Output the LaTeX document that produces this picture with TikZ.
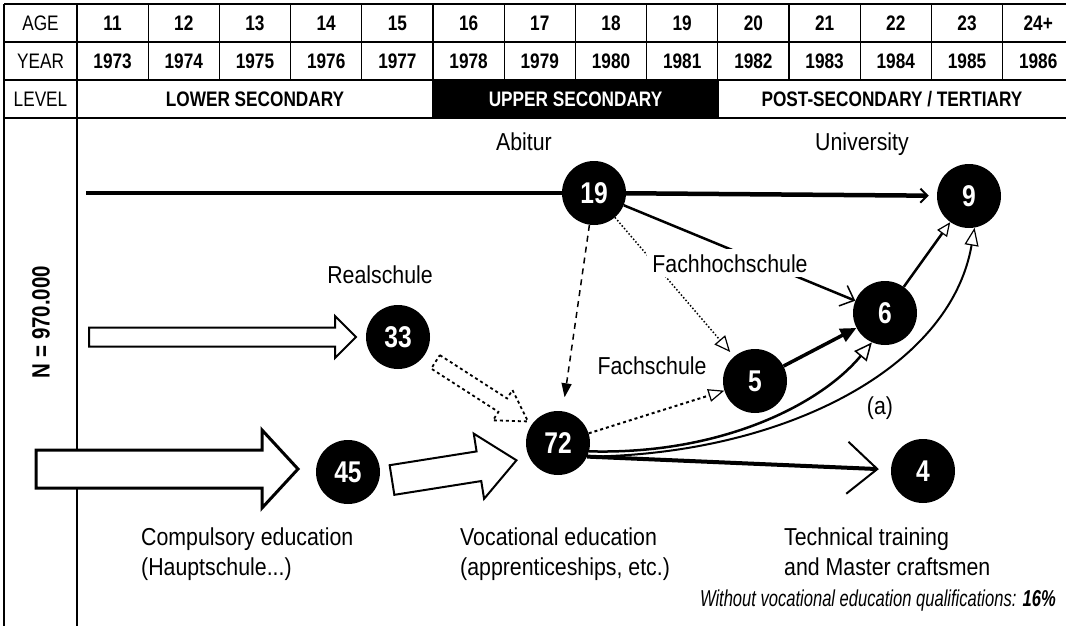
\documentclass[tikz,border=0pt]{standalone}
\usepackage{fontspec}
\setmainfont{Liberation Sans}
\newfontfamily\cond{Liberation Sans}[FakeStretch=0.82]
\newfontfamily\labf{Liberation Sans}[FakeStretch=0.87]
\newfontfamily\condit{Liberation Sans}[FakeStretch=0.72]
\usetikzlibrary{arrows.meta,calc}
\tikzset{
  pics/fatarrow/.style n args={4}{code={
    \draw[fill=white,line join=miter] (0,-#2) -- ({#1-#4},-#2) -- ({#1-#4},-#3) -- (#1,0) -- ({#1-#4},#3) -- ({#1-#4},#2) -- (0,#2) -- cycle;}},
  grid/.style={line width=1.3pt},
  hdr/.style={inner sep=0pt, font=\cond\fontsize{21}{24}\selectfont},
  hdrb/.style={inner sep=0pt, font=\cond\bfseries\fontsize{21}{24}\selectfont},
  circ/.style={circle, fill=black, minimum size=64pt, inner sep=0pt, text=white, font=\cond\bfseries\fontsize{30}{30}\selectfont},
  lbl/.style={inner sep=0pt, anchor=base, font=\labf\fontsize{24.5}{26}\selectfont},
  lblw/.style={lbl, anchor=base west},
  gap/.style={fill=white, inner sep=5pt},
}
\begin{document}
\begin{tikzpicture}[x=1pt,y=-1pt]
\useasboundingbox (0,0) rectangle (1066,626);
\fill[white] (0,0) rectangle (1066,626);

% ---------- table ----------
\fill[black] (433,80) rectangle (718,118);
\draw[grid] (4,4) -- (1066,4);
\draw[grid] (4,42) -- (1066,42);
\draw[grid] (4,80) -- (1066,80);
\draw[grid] (4,118) -- (1066,118);
\draw[grid] (4,4) -- (4,626);
\draw[grid] (77,4) -- (77,626);
\foreach \k in {1,...,13} \draw[grid] ({77+71.2*\k},4) -- ({77+71.2*\k},80);
\draw[grid] (433,80) -- (433,118);
\draw[grid] (718,80) -- (718,118);

\node[hdr] (hage) at (40.5,23) {AGE};
\node[hdr] (hyear) at (40.5,61) {YEAR};
\node[hdr] (hlevel) at (40.5,99) {LEVEL};
\foreach \a [count=\k from 0] in {11,12,13,14,15,16,17,18,19,20,21,22,23,24+}{
  \pgfmathtruncatemacro\yr{1973+\k}
  \node[hdrb] (age\k) at ({112.6+71.2*\k},23) {\a};
  \node[hdrb] (year\k) at ({112.6+71.2*\k},61) {\yr};
}
\node[hdrb] (lower) at (255,99) {LOWER SECONDARY};
\node[hdrb, text=white] (upper) at (575.5,99) {UPPER SECONDARY};
\node[hdrb] (post) at (892,99) {POST-SECONDARY / TERTIARY};

\node[rotate=90, inner sep=0pt, font=\cond\bfseries\fontsize{25}{26}\selectfont] (nlab) at (41,322) {N = 970.000};

% ---------- circles ----------
\node[circ] (n19) at (594,193) {19};
\node[circ] (n9) at (969,196) {9};
\node[circ] (n33) at (398,337) {33};
\node[circ] (n6) at (885,313) {6};
\node[circ] (n5) at (755,381) {5};
\node[circ] (n72) at (558,443) {72};
\node[circ] (n45) at (348,472) {45};
\node[circ] (n4) at (923,471) {4};

% ---------- wide open arrows ----------
\pic[line width=3pt] at (36,469) {fatarrow={262}{19}{39}{36}};
\pic[line width=2pt] at (89,337) {fatarrow={267}{9.5}{21}{21}};
\pic[line width=2pt, rotate=9] at ($(n45)+(44,8)$) {fatarrow={126}{15}{33}{38}};
\pic[line width=1.8pt, dashed, rotate=-32.8] at ($(n33)!45pt!(n72)$) {fatarrow={110}{8}{18}{30}};

% ---------- connectors ----------
\coordinate (abstart) at (86,193);
\draw[line width=4.5pt] (abstart) -- (n19);
\draw[line width=4.5pt, -{Straight Barb[length=7pt,width=14pt,line width=2pt]}, shorten >=8pt] (n19) -- (n9);
\draw[line width=2.5pt, -{Straight Barb[length=12pt,width=22pt,line width=1.5pt]}] (n19) -- (n6);
\draw[line width=1.5pt, dash pattern=on 6pt off 5pt, -{Triangle[length=14pt,width=10pt]}, shorten >=14pt] (n19) -- (n72);
\draw[line width=1.5pt, dotted, -{Triangle[open,length=16pt,width=14pt,line width=1.2pt]}, shorten >=6pt] (n19) -- (n5);
\draw[line width=2pt, dashed, -{Triangle[open,length=16pt,width=13pt,line width=1.2pt]}] (n72) -- (n5);
\draw[line width=3.5pt, -{Triangle[length=16pt,width=14pt]}] (n5) -- (n6);
\draw[line width=2.5pt, -{Triangle[open,length=18pt,width=16pt,line width=1.5pt]}] (n72.345) .. controls (720,455) and (820,405) .. (n6.246);
\draw[line width=2pt, -{Triangle[open,length=18pt,width=14pt,line width=1.2pt]}] (n72.335) .. controls (780,455) and (950,370) .. (n9.280);
\draw[line width=2.5pt, -{Triangle[open,length=14pt,width=12pt,line width=1.2pt]}] (n6) -- (n9);
\draw[line width=4pt, -{Straight Barb[length=30pt,width=52pt,line width=2pt]}, shorten >=12pt] (n72.335) -- (n4);

% ---------- labels ----------
\node[lbl] (abitur) at (524,150) {Abitur};
\node[lbl] (univ) at (862,150) {University};
\node[lbl] (real) at (380,283) {Realschule};
\node[lbl, gap] (fhs) at (730,272) {Fachhochschule};
\node[lbl] (fs) at (652,374) {Fachschule};
\node[lbl] (alab) at (880,414) {(a)};
\node[lblw] (comp1) at (141,545) {Compulsory education};
\node[lblw] (comp2) at (141,575) {(Hauptschule...)};
\node[lblw] (voc1) at (460,545) {Vocational education};
\node[lblw] (voc2) at (460,575) {(apprenticeships, etc.)};
\node[lblw] (tech1) at (784,545) {Technical training};
\node[lblw] (tech2) at (784,575) {and Master craftsmen};
\node[inner sep=0pt, anchor=base east, font=\condit\itshape\fontsize{23}{25}\selectfont] (noqual) at (1056,606) {Without vocational education qualifications: \bfseries 16\%};
\end{tikzpicture}
\end{document}
